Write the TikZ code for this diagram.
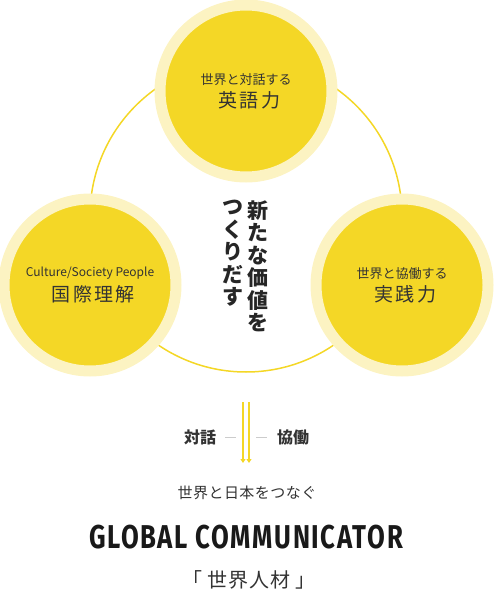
\documentclass[tikz,border=0pt]{standalone}
\usepackage{fontspec}
\setmainfont{Noto Sans CJK JP}
\newfontfamily\widefont[LetterSpace=12]{Noto Sans CJK JP}
\newfontfamily\condfont[FakeStretch=0.78,LetterSpace=5]{Fira Sans}
\usetikzlibrary{arrows.meta}
\definecolor{yel}{HTML}{F4D726}
\definecolor{pale}{HTML}{FCF3C2}
\definecolor{ink}{HTML}{333333}

\begin{document}
\begin{tikzpicture}[x=1pt,y=-1pt,text=ink,
	disc/.style={circle,fill=yel,draw=pale,line width=11pt,minimum size=172pt,inner sep=0pt,align=center},
	column/.style={anchor=north,align=center,font=\fontsize{21}{22.5}\selectfont\bfseries,text=black!85},
	flow/.style={yel,line width=1.1pt,-{Triangle[length=4pt,width=5pt]}},
	tick/.style={black!20,line width=0.8pt}]

\useasboundingbox (0,0) rectangle (493,593);

\coordinate (mid) at (246,216);
\draw[yel,line width=1.5pt] (mid) circle (156);

\node[disc](eigo) at (246,91){{\fontsize{13}{16}\selectfont 世界と対話する}\\[5pt]{\fontsize{19}{24}\widefont\ 英語力}};
\node[disc](kokusai) at (90,285){{\fontsize{12}{16}\selectfont Culture/Society People}\\[5pt]{\fontsize{19}{24}\widefont\ 国際理解}};
\node[disc](jissen) at (402,285){{\fontsize{13}{16}\selectfont 世界と協働する}\\[5pt]{\fontsize{19}{24}\widefont\ 実践力}};

\node[column](col1) at (258,197){新\\た\\な\\価\\値\\を};
\node[column](col2) at (233,197){つ\\く\\り\\だ\\す};

\coordinate (a1) at (243,402);
\coordinate (b1) at (243,463);
\coordinate (a2) at (249,402);
\coordinate (b2) at (249,463);
\path (a1) edge[flow] (b1)
	(a2) edge[flow] (b2);

\node[font=\fontsize{16}{18}\selectfont\bfseries](taiwa) at (200,437){対話};
\node[font=\fontsize{16}{18}\selectfont\bfseries](kyodo) at (293,437){協働};
\coordinate (d1) at (225,437);
\coordinate (d2) at (236,437);
\coordinate (d3) at (256,437);
\coordinate (d4) at (267,437);
\path (d1) edge[tick] (d2)
	(d3) edge[tick] (d4);

\node[font=\fontsize{15}{16}\selectfont\addfontfeatures{LetterSpace=3}](tsunagu) at (247,493){世界と日本をつなぐ};
\node[font=\fontsize{33}{36}\condfont\bfseries,text=black!90](global) at (246,537){GLOBAL COMMUNICATOR};
\node[font=\fontsize{20}{22}\selectfont\addfontfeatures{LetterSpace=4}](jinzai) at (249,580){「 世界人材 」};

\end{tikzpicture}
\end{document}
